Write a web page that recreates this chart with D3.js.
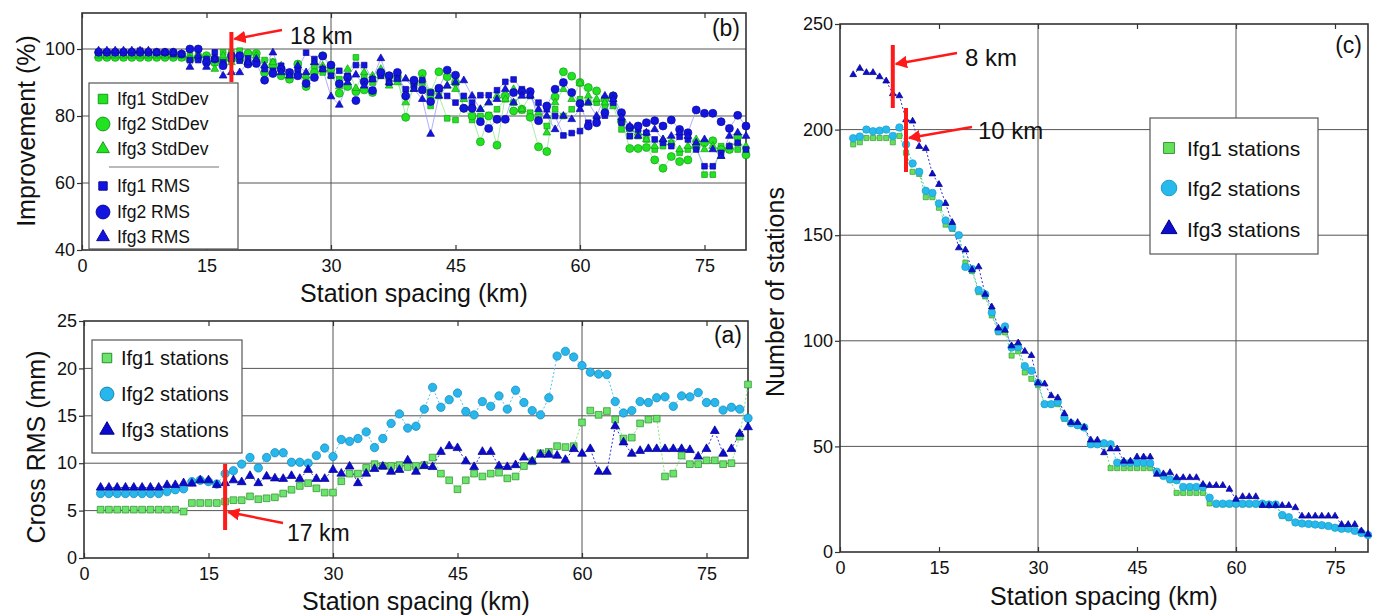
<!DOCTYPE html>
<html>
<head>
<meta charset="utf-8">
<script src="https://cdn.jsdelivr.net/npm/d3@7"></script>
<style>
  body { margin: 0; background: #fff; }
  svg { display: block; }
  text { font-family: "Liberation Sans", Arial, Helvetica, sans-serif; fill: #111; }
</style>
</head>
<body>
<svg id="chart" width="1378" height="615"></svg>
<script>
// ---------- data ----------
const spacingKm = [2,3,4,5,6,7,8,9,10,11,12,13,14,15,16,17,18,19,20,21,22,23,24,25,26,27,28,29,30,
  31,32,33,34,35,36,37,38,39,40,41,42,43,44,45,46,47,48,49,50,51,52,53,54,55,56,57,58,59,60,
  61,62,63,64,65,66,67,68,69,70,71,72,73,74,75,76,77,78,79,80];

const xTickLabels = [0, 15, 30, 45, 60, 75];

// (b) improvement (%) by station spacing
const impStd1 = [98,98,98,98,98,98,98,98,98,98,97.5,98,98,97,96,99,99,99.5,98,97,96.7,96.2,94,91,93,91,95,93,93,
  91,92,97.5,92,90,92,90,91,86,89,90,83,86,79.3,78.8,82.3,78.8,80,80.3,82,85,84,81.7,81,79,77,82,80,82,85,
  84,84,83,83,76,74,74,73,70,71,72,69,70,72,62.5,62.5,71,70,70,70];
const impStd2 = [97.5,97.5,97.5,97.5,97.5,97.5,97.5,97.5,97.5,97.5,97.5,97,97.5,98,96,96.5,97,97,98.7,98.7,92.9,95,92,91,95.5,88.8,93,98,94,
  86.8,88.8,87.3,87.8,87,92.5,92,91.7,79.6,90.2,92.7,87,93.2,91.7,90,82.3,80,72.3,80,71.3,86,81.5,82,79.6,70.8,69.4,85.7,93.2,91.9,90,
  88.5,87.5,85,86,78.3,70.3,70.3,70.6,66.9,64.4,67.9,66.4,66.9,70.8,72,72.6,70,70,73.8,68.4];
const impStd3 = [98,98,98,98,98,98,98,98,98,98,98,97,98,97,94,98,96,97,96,98,95,96,95,92,93,92,96,95,92,
  88.8,94,88.3,93,92,94,89,90,84,88,91,86,88,89,88,85,83,82,84,86,85,88,82,86,81,75,84,88,85,89.7,
  86,85,84,86,79,76,75,73,71,73,72,70,71,73,70,71,68,71,72,71];
const impRms1 = [99,99,99,99,99,99.5,99,99,99,98.5,98.5,96.7,96.7,97,99,96,97,96.5,97.2,96,94,93.5,95,93,94,98.9,97,94,92,
  93.5,92,95.2,95.2,91,92,90,91.7,88,89,90.7,87,88,86,84,86,84,86.2,86.2,87.7,90.2,90.9,88,86,84,82,80,74.2,74.9,75.5,
  78,79,80.1,84,78,74,76,75,73,72,71,73.8,73,70,65,65,69,71,72,70];
const impRms2 = [99,99,99,99,99,99,99,99,99,99,98.5,100,100,96,97,95,98,98,95.5,95.7,90.7,92.7,94,93,92,89.7,91.5,97.9,95.2,
  89.6,91.5,84.6,90.2,87.6,93,92,93,86,90.7,87.8,84.3,88.3,93.7,92.2,82.3,82.3,78.3,76.3,79,79,87,87.3,87.3,78.6,83,88,90,87,83.7,
  77,78,81,86,81,76.6,77,78,78.6,77,78.8,76,75,81.8,80.8,80.8,78.3,76.3,80.2,77];
const impRms3 = [99.5,99.5,99.5,99.5,99.5,99.5,99.5,99,99,99,98.5,94.6,98,94.6,97,92,93,93,96,97,95,98.9,93,92,95,93,96,94,85.8,
  83.3,90,92.3,89,91,97.2,90,91,91.1,88,85,74.6,86,89,90,90.6,86,82,84,85,88,84,86,86.2,82,80,76,80,79,82,
  84,80,86,85,79.5,77,74,75,76,73,74,75,74,72,73,70,68,74,75,74];

// (a) cross RMS (mm) by station spacing
const rmsIfg1 = [5.1,5.1,5.1,5.1,5.1,5.1,5.1,5.1,5.1,5.1,4.9,5.8,5.8,5.8,5.8,5.95,6.1,6.1,6.5,6.2,6.3,6.4,6.8,7.2,7.6,7.9,7.35,6.9,6.9,
  8.1,8.9,8.9,9.5,9.9,9.7,9.7,9.8,9.6,9.7,9.8,10.6,8.9,8.2,7.25,8.2,8.9,8.6,8.9,9.0,8.4,8.6,9.7,10.2,11.05,11.2,11.8,11.7,11.8,14.3,
  15.55,15.1,15.5,14.6,12.6,12.7,14.2,14.6,14.7,8.6,8.9,10.8,9.9,9.9,10.3,10.3,9.9,10.0,12.8,18.3];
const rmsIfg2 = [6.8,6.8,6.8,6.8,6.8,6.8,6.8,6.8,7.0,7.2,7.3,8.06,8.2,8.06,7.8,8.9,9.2,9.9,10.6,9.5,10.6,11.1,11.1,10.1,10.1,10.0,10.8,11.6,10.7,
  12.5,12.3,12.6,13.3,11.65,12.6,14.2,15.2,13.7,13.9,15.7,18.0,15.9,16.7,17.4,15.45,15.1,16.5,16.0,17.1,15.7,17.7,16.4,15.55,15.1,16.9,21.3,21.8,21.2,20.3,
  19.6,19.4,19.35,16.5,15.3,15.55,16.5,16.4,16.9,17.0,16.0,17.1,17.0,17.45,16.4,16.4,15.6,15.9,15.7,14.75];
const rmsIfg3 = [7.43,7.43,7.43,7.43,7.43,7.43,7.43,7.43,7.7,7.7,7.9,7.85,8.2,8.2,7.7,7.9,8.2,8.0,8.66,7.9,8.6,8.4,8.35,8.66,8.35,9.3,8.35,8.35,9.3,
  8.9,9.65,7.9,8.9,9.4,9.65,9.1,9.3,10.3,9.1,9.7,9.6,11.2,11.8,11.6,10.2,9.6,11.2,11.2,9.7,9.6,9.8,10.6,10.2,10.9,10.9,10.8,10.35,11.5,11.0,
  11.5,9.1,9.1,13.9,12.2,11.0,11.3,11.5,11.5,11.5,11.5,11.5,11.4,10.7,11.5,13.4,11.0,11.5,13.1,13.8];

// (c) number of stations by station spacing
const nIfg1 = [193,194,196,196,196,196,194,197,189,180,179,168,168,163,155,153,150,137,133,123,121,112,104,104,93,95,85,82,79,
  70,70,70,63,61,60,59,51,51,51,39.7,39.7,39.7,39.7,39.7,39.7,39.7,38,36,34,28,28,28,28,28,23,22.5,22.5,22.5,22.5,
  22.5,22.5,22.5,22.5,22.5,22.5,17,16,14,13.5,13.3,13,12.7,12.3,11.5,11,11,10,9,8];
const nIfg2 = [195.9,196.7,200,199.2,199.5,200,197,201,193,184,180,171,170,165,157,153.7,150,135,134,124,122,113.4,104.7,106.8,96.8,97,88,85.8,80,
  70,70,71,63.6,61,60,59,51,51,51.5,51,42.3,42.3,42.3,42.3,42.3,42,38,36,34.4,34,30.8,30.8,30.8,30.8,25.7,22.9,22.9,22.9,22.9,
  22.9,22.9,22.9,22.9,22.5,22.5,17.5,16.5,14,13.5,13.3,13,12.7,12.3,11.5,11,11,10,9,8];
const nIfg3 = [226,229,227,227,225,223,217,216,204.6,204,192,191,179,174,165,156,144,143,133.6,135,122,116,106,105,97.6,99,95,93,80,
  79.6,74,73,65.5,61.3,61.3,59,53,53,47,48.8,48.8,43,43,45,45,45,36.8,37,37.6,35.2,35.2,35.2,35.2,32,31.5,31.5,31.5,29.7,25,
  26.2,26.2,26.2,22,22,22,22,22,21,17,17,17,17,17,17,13,13,13,10,8.4];

// ---------- drawing ----------
const svg = d3.select("#chart");
const RED = "#ff1a1a";

svg.append("defs").append("marker")
  .attr("id", "arrowhead").attr("viewBox", "0 0 10 10")
  .attr("refX", 9).attr("refY", 5)
  .attr("markerWidth", 5).attr("markerHeight", 5)
  .attr("markerUnits", "strokeWidth").attr("orient", "auto")
  .append("path").attr("d", "M0,0 L10,5 L0,10 z").attr("fill", RED);

function makePanel(cfg) {
  const x = d3.scaleLinear().domain([0, 80]).range(cfg.xr);
  const y = d3.scaleLinear().domain(cfg.yd).range(cfg.yr);
  const g = svg.append("g");
  const [x0, x1] = cfg.xr, [yb, yt] = cfg.yr;

  // grid
  g.selectAll(null).data(cfg.gridX).join("line")
    .attr("x1", d => x(d)).attr("x2", d => x(d)).attr("y1", yb).attr("y2", yt)
    .attr("stroke", "#555").attr("stroke-width", 1);
  g.selectAll(null).data(cfg.gridY).join("line")
    .attr("x1", x0).attr("x2", x1).attr("y1", d => y(d)).attr("y2", d => y(d))
    .attr("stroke", "#555").attr("stroke-width", 1);

  // axes
  const ax = g.append("g").attr("transform", `translate(0,${yb})`)
    .call(d3.axisBottom(x).tickValues(xTickLabels).tickSize(-5).tickPadding(9));
  const axTop = g.append("g").attr("transform", `translate(0,${yt})`)
    .call(d3.axisTop(x).tickValues(xTickLabels).tickSize(-5).tickFormat(""));
  const ay = g.append("g").attr("transform", `translate(${x0},0)`)
    .call(d3.axisLeft(y).tickValues(cfg.yTicks).tickSize(5).tickPadding(2));
  [ax, axTop, ay].forEach(a => {
    a.select(".domain").remove();
    a.selectAll(".tick line").attr("stroke", "#333").attr("stroke-width", 1.2);
    a.selectAll("text").attr("font-size", 18).attr("fill", "#111")
      .attr("font-family", "'Liberation Sans', Arial, sans-serif");
  });

  // frame
  g.append("rect").attr("x", x0).attr("y", yt).attr("width", x1 - x0).attr("height", yb - yt)
    .attr("fill", "none").attr("stroke", "#333").attr("stroke-width", 1.6);

  // titles
  g.append("text").attr("x", (x0 + x1) / 2).attr("y", cfg.xTitleY)
    .attr("text-anchor", "middle").attr("font-size", 25).text("Station spacing (km)");
  g.append("text").attr("transform", `translate(${cfg.yTitleX},${cfg.yTitleCY}) rotate(-90)`)
    .attr("text-anchor", "middle").attr("dominant-baseline", "central")
    .attr("font-size", 25).text(cfg.yTitle);
  g.append("text").attr("x", x1 - 6).attr("y", cfg.tagY).attr("text-anchor", "end")
    .attr("font-size", 23).text(cfg.tag);

  // series
  cfg.series.forEach(s => {
    const pts = spacingKm.map((k, i) => [k, s.values[i]]);
    g.append("path").datum(pts)
      .attr("d", d3.line().x(d => x(d[0])).y(d => y(d[1])))
      .attr("fill", "none").attr("stroke", s.lineColor).attr("stroke-width", s.lineWidth || 1)
      .attr("stroke-dasharray", s.dash || null).attr("opacity", s.lineOpacity || 1);
  });
  cfg.series.forEach(s => {
    const pts = spacingKm.map((k, i) => [k, s.values[i]]);
    g.selectAll(null).data(pts).join("path")
      .attr("transform", d => `translate(${x(d[0])},${y(d[1])})`)
      .attr("d", d3.symbol().type(s.shape).size(s.size))
      .attr("fill", s.fill).attr("stroke", s.stroke).attr("stroke-width", 0.7);
  });

  // legend
  const L = cfg.legend;
  const lg = g.append("g");
  lg.append("rect").attr("x", L.x).attr("y", L.y).attr("width", L.w).attr("height", L.h)
    .attr("fill", "#fff").attr("stroke", "#555").attr("stroke-width", 1.2);
  L.items.forEach(it => {
    if (it.sep) {
      lg.append("line").attr("x1", it.x1).attr("x2", it.x2).attr("y1", it.y).attr("y2", it.y)
        .attr("stroke", "#777").attr("stroke-width", 1.2);
      return;
    }
    lg.append("path").attr("transform", `translate(${L.mx},${it.y})`)
      .attr("d", d3.symbol().type(it.s.shape).size(it.size))
      .attr("fill", it.s.fill).attr("stroke", it.s.stroke).attr("stroke-width", 1);
    lg.append("text").attr("x", L.tx).attr("y", it.y).attr("dominant-baseline", "central")
      .attr("font-size", L.fs).text(it.label);
  });

  // annotation
  cfg.notes.forEach(n => {
    const xv = x(n.km);
    g.append("line").attr("x1", xv).attr("x2", xv).attr("y1", n.y1).attr("y2", n.y2)
      .attr("stroke", RED).attr("stroke-width", 4);
    g.append("line").attr("x1", n.ax).attr("y1", n.ay).attr("x2", xv + 3).attr("y2", n.ty)
      .attr("stroke", RED).attr("stroke-width", 2.5).attr("marker-end", "url(#arrowhead)");
    g.append("text").attr("x", n.lx).attr("y", n.ly).attr("font-size", n.fs).text(n.label);
  });
}

// (b)
const bStd1 = { values: impStd1, shape: d3.symbolSquare, size: 32, fill: "#22e322", stroke: "#169c16", lineColor: "#8fe88f", lineWidth: 0.8 };
const bStd2 = { values: impStd2, shape: d3.symbolCircle, size: 50, fill: "#22e322", stroke: "#169c16", lineColor: "#8fe88f", lineWidth: 0.8 };
const bStd3 = { values: impStd3, shape: d3.symbolTriangle, size: 26, fill: "#22e322", stroke: "#169c16", lineColor: "#8fe88f", lineWidth: 0.8 };
const bRms1 = { values: impRms1, shape: d3.symbolSquare, size: 32, fill: "#1414e0", stroke: "#0a0a99", lineColor: "#9a9aff", lineWidth: 0.8 };
const bRms2 = { values: impRms2, shape: d3.symbolCircle, size: 50, fill: "#1414e0", stroke: "#0a0a99", lineColor: "#9a9aff", lineWidth: 0.8 };
const bRms3 = { values: impRms3, shape: d3.symbolTriangle, size: 26, fill: "#1414e0", stroke: "#0a0a99", lineColor: "#9a9aff", lineWidth: 0.8 };

makePanel({
  xr: [82, 746], yr: [250, 13], yd: [40, 110.75],
  yTicks: [40, 60, 80, 100], gridX: [30, 60], gridY: [60, 80, 100],
  xTitleY: 302, yTitle: "Improvement (%)", yTitleX: 26, yTitleCY: 131,
  tag: "(b)", tagY: 36,
  series: [bStd1, bStd2, bStd3, bRms1, bRms2, bRms3],
  legend: { x: 89, y: 83, w: 149, h: 166, mx: 103, tx: 117, fs: 17.5, items: [
    { y: 99, s: bStd1, size: 90, label: "Ifg1 StdDev" },
    { y: 124, s: bStd2, size: 150, label: "Ifg2 StdDev" },
    { y: 149, s: bStd3, size: 70, label: "Ifg3 StdDev" },
    { sep: true, y: 167, x1: 109, x2: 219 },
    { y: 186, s: bRms1, size: 70, label: "Ifg1 RMS" },
    { y: 212, s: bRms2, size: 150, label: "Ifg2 RMS" },
    { y: 237, s: bRms3, size: 70, label: "Ifg3 RMS" } ] },
  notes: [{ km: 18, y1: 32, y2: 82, ax: 282, ay: 30, ty: 39, lx: 290, ly: 44, fs: 23, label: "18 km" }]
});

// (a)
const aIfg1 = { values: rmsIfg1, shape: d3.symbolSquare, size: 45, fill: "#6ae46a", stroke: "#2e8b2e", lineColor: "#7de87d", dash: "2,2" };
const aIfg2 = { values: rmsIfg2, shape: d3.symbolCircle, size: 55, fill: "#27b7ec", stroke: "#1585b5", lineColor: "#4cc4ee", dash: "2,2" };
const aIfg3 = { values: rmsIfg3, shape: d3.symbolTriangle, size: 34, fill: "#0b0bd0", stroke: "#00008b", lineColor: "#3333dd", dash: "2,2" };

makePanel({
  xr: [84, 748], yr: [558, 321], yd: [0, 25],
  yTicks: [0, 5, 10, 15, 20, 25], gridX: [30, 60], gridY: [5, 10, 15, 20],
  xTitleY: 610, yTitle: "Cross RMS (mm)", yTitleX: 36, yTitleCY: 447,
  tag: "(a)", tagY: 343,
  series: [aIfg1, aIfg2, aIfg3],
  legend: { x: 92, y: 340, w: 150, h: 113, mx: 107, tx: 121, fs: 20, items: [
    { y: 358, s: aIfg1, size: 90, label: "Ifg1 stations" },
    { y: 394, s: aIfg2, size: 150, label: "Ifg2 stations" },
    { y: 430, s: aIfg3, size: 90, label: "Ifg3 stations" } ] },
  notes: [{ km: 17, y1: 464, y2: 530, ax: 283, ay: 523, ty: 512, lx: 287, ly: 541, fs: 23, label: "17 km" }]
});

// (c)
const cIfg1 = { values: nIfg1, shape: d3.symbolSquare, size: 26, fill: "#66e05a", stroke: "#3a9a3a", lineColor: "#66e05a", dash: "2,2" };
const cIfg2 = { values: nIfg2, shape: d3.symbolCircle, size: 44, fill: "#27b9ec", stroke: "#1a9fd0", lineColor: "#4cc4ee", dash: "2,2" };
const cIfg3 = { values: nIfg3, shape: d3.symbolTriangle, size: 20, fill: "#0d0dcc", stroke: "#00008b", lineColor: "#3333dd", dash: "2,2" };

makePanel({
  xr: [840, 1368], yr: [552, 24], yd: [0, 250],
  yTicks: [0, 50, 100, 150, 200, 250], gridX: [30, 60], gridY: [50, 100, 150, 200],
  xTitleY: 605, yTitle: "Number of stations", yTitleX: 775, yTitleCY: 292,
  tag: "(c)", tagY: 53,
  series: [cIfg1, cIfg2, cIfg3],
  legend: { x: 1150, y: 118, w: 168, h: 136, mx: 1169, tx: 1187, fs: 21, items: [
    { y: 148, s: cIfg1, size: 120, label: "Ifg1 stations" },
    { y: 188, s: cIfg2, size: 190, label: "Ifg2 stations" },
    { y: 229, s: cIfg3, size: 110, label: "Ifg3 stations" } ] },
  notes: [
    { km: 8, y1: 45, y2: 108, ax: 957, ay: 53, ty: 64, lx: 965, ly: 66, fs: 24, label: "8 km" },
    { km: 10, y1: 108, y2: 172, ax: 972, ay: 127, ty: 138, lx: 978, ly: 139, fs: 24, label: "10 km" }
  ]
});
</script>
</body>
</html>
